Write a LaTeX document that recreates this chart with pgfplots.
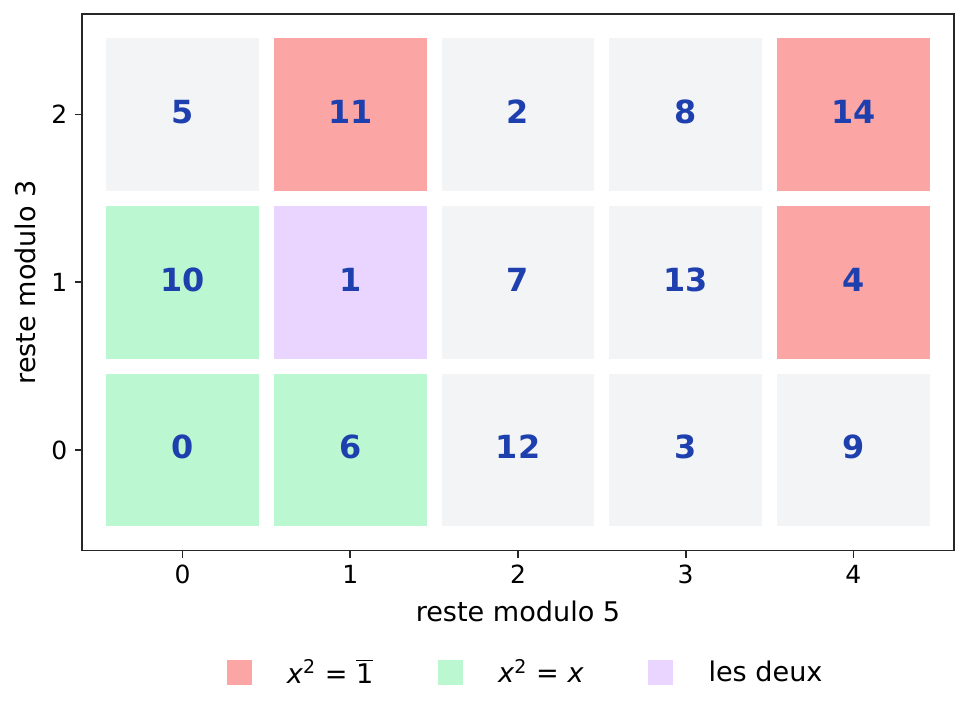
\documentclass[border=0pt]{standalone}
\usepackage{pgfplots}
\pgfplotsset{compat=1.18}
\usepackage{fontspec}
\setmainfont{DejaVu Sans}

\definecolor{cred}{HTML}{FCA5A5}
\definecolor{cgreen}{HTML}{BBF7D0}
\definecolor{cpurple}{HTML}{E9D5FF}
\definecolor{cgray}{HTML}{F3F4F6}
\definecolor{cblue}{HTML}{1E40AF}
\definecolor{frame}{HTML}{262626}

\pgfplotsset{
  cell/.style={only marks, mark=square*, mark size=36.4pt, forget plot,
    mark options={fill=#1, draw=#1, line width=0pt}},
  sq/.style={legend image code/.code={\fill[#1] (0pt,-5.75pt) rectangle (11.5pt,5.75pt);}},
}

\begin{document}
\begin{tikzpicture}
\begin{axis}[
  scale only axis, width=418.6pt, height=257.6pt,
  xmin=-0.6, xmax=4.6, ymin=-0.6, ymax=2.6,
  xtick={0,1,2,3,4}, ytick={0,1,2},
  tick align=outside, tick pos=left, major tick length=3.5pt,
  tick style={frame, line width=0.8pt},
  axis line style={frame, line width=0.8pt},
  /pgf/number format/assume math mode=true,
  every tick label/.append style={font=\fontsize{12}{14}\selectfont},
  label style={font=\fontsize{13}{15}\selectfont},
  xlabel={reste modulo 5}, ylabel={reste modulo 3},
  x label style={at={(axis description cs:0.5,-0.1137)}, anchor=center},
  y label style={at={(axis description cs:-0.0648,0.5)}, anchor=center},
  legend columns=3, legend cell align=left,
  legend style={draw=none, fill=none, at={(0.51,-0.2274)}, anchor=center,
    font=\fontsize{13}{15}\selectfont,
    /tikz/every odd column/.append style={column sep=15pt},
    /tikz/every even column/.append style={column sep=29pt}},
]
% cases grises
\addplot[cell=cgray] coordinates {(0,2) (2,2) (3,2) (2,1) (3,1) (2,0) (3,0) (4,0)};
% x^2 = 1
\addplot[cell=cred] coordinates {(1,2) (4,2) (4,1)};
% x^2 = x
\addplot[cell=cgreen] coordinates {(0,1) (0,0) (1,0)};
% les deux
\addplot[cell=cpurple] coordinates {(1,1)};

% valeurs
\addplot[only marks, mark=none, forget plot, nodes near coords, point meta=explicit symbolic,
  every node near coord/.append style={anchor=center, yshift=1.4pt, text=cblue,
    font=\fontsize{15.3}{18}\selectfont\bfseries}]
  coordinates {
    (0,2) [5]  (1,2) [11] (2,2) [2]  (3,2) [8]  (4,2) [14]
    (0,1) [10] (1,1) [1]  (2,1) [7]  (3,1) [13] (4,1) [4]
    (0,0) [0]  (1,0) [6]  (2,0) [12] (3,0) [3]  (4,0) [9]
  };

\addlegendimage{sq=cred}
\addlegendentry{\textit{x}\textsuperscript{2} = $\overline{\mbox{1}}$}
\addlegendimage{sq=cgreen}
\addlegendentry{\textit{x}\textsuperscript{2} = \textit{x}}
\addlegendimage{sq=cpurple}
\addlegendentry{les deux}
\end{axis}
\path (current axis.south west) ++(-39.36pt,-78.7pt) rectangle ([shift={(7.2pt,6.72pt)}]current axis.north east);
\end{tikzpicture}
\end{document}
